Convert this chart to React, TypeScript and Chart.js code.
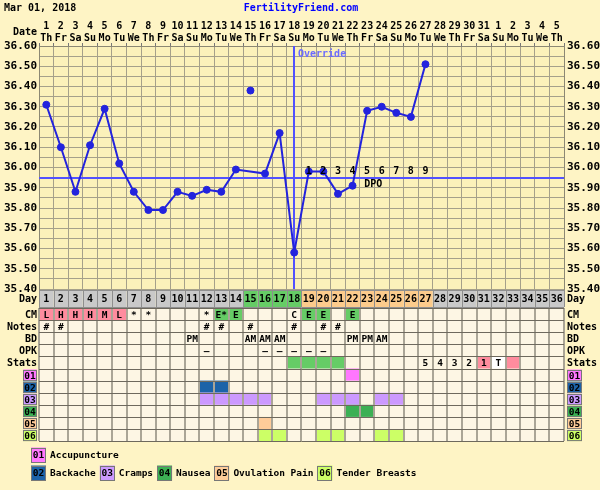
import React, { useEffect, useRef } from 'react';
import { Chart, registerables } from 'chart.js';

Chart.register(...registerables);

// ---------- data ----------
const TITLE_DATE = 'Mar 01, 2018';
const SITE = 'FertilityFriend.com';

const dateNums = [
  '1', '2', '3', '4', '5', '6', '7', '8', '9', '10', '11', '12',
  '13', '14', '15', '16', '17', '18', '19', '20', '21', '22', '23', '24',
  '25', '26', '27', '28', '29', '30', '31', '1', '2', '3', '4', '5',
];
const weekdays = [
  'Th', 'Fr', 'Sa', 'Su', 'Mo', 'Tu', 'We', 'Th', 'Fr', 'Sa', 'Su', 'Mo',
  'Tu', 'We', 'Th', 'Fr', 'Sa', 'Su', 'Mo', 'Tu', 'We', 'Th', 'Fr', 'Sa',
  'Su', 'Mo', 'Tu', 'We', 'Th', 'Fr', 'Sa', 'Su', 'Mo', 'Tu', 'We', 'Th',
];
const cycleDays = [
  '1', '2', '3', '4', '5', '6', '7', '8', '9', '10', '11', '12',
  '13', '14', '15', '16', '17', '18', '19', '20', '21', '22', '23', '24',
  '25', '26', '27', '28', '29', '30', '31', '32', '33', '34', '35', '36',
];
const temps = [
  36.31, 36.10, 35.88, 36.11, 36.29, 36.02, 35.88, 35.79, 35.79, 35.88, 35.86, 35.89,
  35.88, 35.99, null, 35.97, 36.17, 35.58, 35.98, 35.98, 35.87, 35.91, 36.28, 36.30,
  36.27, 36.25, 36.51, null, null, null, null, null, null, null, null, null,
];
const discardedTemps = [
  null, null, null, null, null, null, null, null, null, null, null, null,
  null, null, 36.38, null, null, null, null, null, null, null, null, null,
  null, null, null, null, null, null, null, null, null, null, null, null,
];
const COVERLINE = 35.95;
const OVERRIDE_DAY = 18;
const TEMP_MIN = 35.4;
const TEMP_MAX = 36.6;
const TEMP_STEP = 0.05;
const dpoLabels = [
  '', '', '', '', '', '', '', '', '', '', '', '',
  '', '', '', '', '', '', '1', '2', '3', '4', '5', '6',
  '7', '8', '9', '', '', '', '', '', '', '', '', '',
];
// '' normal, 'o' fertile/ovulation, 'p' post-ovulation
const dayPhase = [
  '', '', '', '', '', '', '', '', '', '', '', '',
  '', '', 'o', 'o', 'o', 'o', 'p', 'p', 'p', 'p', 'p', 'p',
  'p', 'p', 'p', '', '', '', '', '', '', '', '', '',
];
const cm = [
  'L', 'H', 'H', 'H', 'M', 'L', '*', '*', '', '', '', '*',
  'E*', 'E', '', '', '', 'C', 'E', 'E', '', 'E', '', '',
  '', '', '', '', '', '', '', '', '', '', '', '',
];
const notes = [
  '#', '#', '', '', '', '', '', '', '', '', '', '#',
  '#', '', '#', '', '', '#', '', '#', '#', '', '', '',
  '', '', '', '', '', '', '', '', '', '', '', '',
];
const bd = [
  '', '', '', '', '', '', '', '', '', '', 'PM', '',
  '', '', 'AM', 'AM', 'AM', '', '', '', '', 'PM', 'PM', 'AM',
  '', '', '', '', '', '', '', '', '', '', '', '',
];
const opk = [
  '', '', '', '', '', '', '', '', '', '', '', '–',
  '', '', '', '–', '–', '–', '–', '–', '', '', '', '',
  '', '', '', '', '', '', '', '', '', '', '', '',
];
const statsText = [
  '', '', '', '', '', '', '', '', '', '', '', '',
  '', '', '', '', '', '', '', '', '', '', '', '',
  '', '', '5', '4', '3', '2', '1', 'T', '', '', '', '',
];
// 'g' green, 'p' pink, 'w' white
const statsColor = [
  '', '', '', '', '', '', '', '', '', '', '', '',
  '', '', '', '', '', 'g', 'g', 'g', 'g', '', '', '',
  '', '', '', '', '', '', 'p', 'w', 'p', '', '', '',
];
const symptomCodes = ['01', '02', '03', '04', '05', '06'];
const symptomNames = ['Accupuncture', 'Backache', 'Cramps', 'Nausea', 'Ovulation Pain', 'Tender Breasts'];
const accupunctureDays = [22];
const backacheDays = [12, 13];
const crampsDays = [12, 13, 14, 15, 16, 20, 21, 22, 24, 25];
const nauseaDays = [22, 23];
const ovulationPainDays = [16];
const tenderBreastsDays = [16, 17, 20, 21, 24, 25];
const symptomDays = [accupunctureDays, backacheDays, crampsDays, nauseaDays, ovulationPainDays, tenderBreastsDays];
const rowNames = ['CM', 'Notes', 'BD', 'OPK', 'Stats'];

// ---------- styles ----------
const FAMILY = '"DejaVu Sans Mono", "Liberation Mono", monospace';
const font = (s: number) => `bold ${s}px ${FAMILY}`;
const PAGE_BG = '#fef4c5';
const PLOT_BG = '#fbf1ba';
const CELL_BG = '#fdf6e4';
const GRID = '#a5a08a';
const LINE = '#2323dd';
const COVER = '#5252ff';
const PINK = '#ff8c9e';
const GREEN = '#66cc66';
const ORANGE = '#fccb8c';
const GREY = '#c9c9c9';
const symptomColors = ['#ff77ff', '#1c63a8', '#cc99ff', '#3cb054', '#ffcc99', '#ccff66'];

const phaseColor = (p: string) => (p === 'o' ? GREEN : p === 'p' ? ORANGE : GREY);
const cmColor = (v: string) => (['L', 'M', 'H'].includes(v) ? PINK : v.startsWith('E') ? GREEN : '');
const statColor = (v: string) => (v === 'g' ? GREEN : v === 'p' ? PINK : v === 'w' ? '#ffffff' : '');

const ffPlugin = {
  id: 'ffChart',
  beforeDraw(chart: any) {
    const { ctx, chartArea: a } = chart;
    ctx.save();
    ctx.fillStyle = PAGE_BG;
    ctx.fillRect(0, 0, chart.width, chart.height);
    ctx.fillStyle = PLOT_BG;
    ctx.fillRect(a.left, a.top, a.right - a.left, a.bottom - a.top);
    ctx.restore();
  },
  beforeDatasetsDraw(chart: any) {
    const { ctx, chartArea: a, scales } = chart;
    const x = scales.x;
    const y = scales.y;
    ctx.save();
    ctx.strokeStyle = COVER;
    ctx.lineWidth = 2;
    const cy = Math.round(y.getPixelForValue(COVERLINE));
    ctx.beginPath();
    ctx.moveTo(a.left, cy);
    ctx.lineTo(a.right, cy);
    ctx.stroke();
    const ox = Math.round(x.getPixelForValue(OVERRIDE_DAY - 1));
    ctx.beginPath();
    ctx.moveTo(ox, a.top);
    ctx.lineTo(ox, a.bottom);
    ctx.stroke();
    ctx.fillStyle = '#6b6bff';
    ctx.font = font(10);
    ctx.textAlign = 'left';
    ctx.textBaseline = 'middle';
    ctx.fillText('Override', ox + 4, a.top + 8);
    ctx.restore();
  },
  afterDraw(chart: any) {
    const { ctx, chartArea: a, scales } = chart;
    const x = scales.x;
    const y = scales.y;
    const n = cycleDays.length;
    const colW = x.getPixelForValue(1) - x.getPixelForValue(0);
    const cx = (i: number) => x.getPixelForValue(i);
    const left = (i: number) => cx(i) - colW / 2;
    ctx.save();

    // title
    ctx.textBaseline = 'middle';
    ctx.fillStyle = '#000';
    ctx.font = font(10);
    ctx.textAlign = 'left';
    ctx.fillText(TITLE_DATE, 4, 8);
    ctx.fillStyle = '#0000ff';
    ctx.textAlign = 'center';
    ctx.fillText(SITE, 301, 8);
    ctx.fillStyle = '#000';
    ctx.textAlign = 'right';
    ctx.fillText('Date', a.left - 2, 32);

    // DPO labels
    const cy = y.getPixelForValue(COVERLINE);
    ctx.textAlign = 'center';
    dpoLabels.forEach((t, i) => {
      if (t) ctx.fillText(t, cx(i), cy - 6);
    });
    ctx.textAlign = 'left';
    ctx.fillText('DPO', cx(22) - 3, cy + 7);

    // table geometry
    const dayTop = a.bottom + 1;
    const dayH = 17;
    const rowsTop = dayTop + dayH + 1;
    const rowH = 12.1;
    const nRows = rowNames.length + symptomCodes.length;
    const rowY = (r: number) => rowsTop + r * rowH;

    // Day row
    for (let i = 0; i < n; i++) {
      ctx.fillStyle = phaseColor(dayPhase[i]);
      ctx.fillRect(left(i), dayTop, colW, dayH);
    }
    ctx.strokeStyle = '#8e8e8e';
    ctx.lineWidth = 1;
    for (let i = 0; i <= n; i++) {
      const xx = Math.round(left(i)) + 0.5;
      ctx.beginPath();
      ctx.moveTo(xx, dayTop);
      ctx.lineTo(xx, dayTop + dayH);
      ctx.stroke();
    }
    ctx.beginPath();
    ctx.moveTo(a.left, Math.round(dayTop) + 0.5);
    ctx.lineTo(a.right, Math.round(dayTop) + 0.5);
    ctx.moveTo(a.left, Math.round(dayTop + dayH) + 0.5);
    ctx.lineTo(a.right, Math.round(dayTop + dayH) + 0.5);
    ctx.stroke();

    // lower rows background & colored cells
    ctx.fillStyle = CELL_BG;
    ctx.fillRect(a.left, rowsTop, a.right - a.left, nRows * rowH);
    const fillCell = (r: number, i: number, c: string) => {
      ctx.fillStyle = c;
      ctx.fillRect(left(i), rowY(r), colW, rowH);
    };
    cm.forEach((v, i) => {
      const c = cmColor(v);
      if (c) fillCell(0, i, c);
    });
    statsColor.forEach((v, i) => {
      const c = statColor(v);
      if (c) fillCell(4, i, c);
    });
    symptomDays.forEach((days, k) => {
      days.forEach((d) => fillCell(5 + k, d - 1, symptomColors[k]));
    });

    // table grid
    ctx.strokeStyle = '#aaa596';
    ctx.lineWidth = 2;
    for (let i = 0; i <= n; i++) {
      const xx = Math.round(left(i));
      ctx.beginPath();
      ctx.moveTo(xx, rowsTop);
      ctx.lineTo(xx, rowsTop + nRows * rowH);
      ctx.stroke();
    }
    ctx.strokeStyle = '#6e695d';
    ctx.lineWidth = 1;
    for (let r = 0; r <= nRows; r++) {
      const yy = Math.round(rowY(r)) + 0.5;
      ctx.beginPath();
      ctx.moveTo(a.left, yy);
      ctx.lineTo(a.right, yy);
      ctx.stroke();
    }

    // cell texts
    ctx.fillStyle = '#000';
    ctx.font = font(10);
    ctx.textAlign = 'center';
    ctx.textBaseline = 'middle';
    cycleDays.forEach((t, i) => ctx.fillText(t, cx(i), dayTop + dayH / 2 + 1));
    ctx.font = font(9.5);
    const rowsText = [cm, notes, bd, opk, statsText];
    rowsText.forEach((arr, r) => {
      arr.forEach((t, i) => {
        if (t) ctx.fillText(t, cx(i), rowY(r) + rowH / 2 + 1);
      });
    });

    // row labels both sides
    const drawBadge = (bx: number, by: number, w: number, h: number, k: number, fs: number) => {
      ctx.fillStyle = symptomColors[k];
      ctx.fillRect(bx, by, w, h);
      ctx.strokeStyle = '#777';
      ctx.lineWidth = 1;
      ctx.strokeRect(Math.round(bx) + 0.5, Math.round(by) + 0.5, w - 1, h - 1);
      ctx.fillStyle = '#000';
      ctx.font = font(fs);
      ctx.textAlign = 'center';
      ctx.textBaseline = 'middle';
      ctx.fillText(symptomCodes[k], bx + w / 2, by + h / 2 + 1);
    };
    ctx.font = font(10);
    ctx.textBaseline = 'middle';
    ctx.fillStyle = '#000';
    ctx.textAlign = 'right';
    ctx.fillText('Day', a.left - 2, dayTop + dayH / 2 + 1);
    ctx.textAlign = 'left';
    ctx.fillText('Day', a.right + 3, dayTop + dayH / 2 + 1);
    rowNames.forEach((t, r) => {
      ctx.font = font(10);
      ctx.fillStyle = '#000';
      ctx.textAlign = 'right';
      ctx.fillText(t, a.left - 2, rowY(r) + rowH / 2 + 1);
      ctx.textAlign = 'left';
      ctx.fillText(t, a.right + 3, rowY(r) + rowH / 2 + 1);
    });
    symptomCodes.forEach((_, k) => {
      const by = rowY(5 + k) + 1;
      drawBadge(a.left - 16, by, 14, rowH - 1, k, 9.5);
      drawBadge(a.right + 3, by, 15, rowH - 1, k, 9.5);
    });

    // legend
    const legendY = [455, 473];
    const legendRows = [[0], [1, 2, 3, 4, 5]];
    legendRows.forEach((ks, li) => {
      let lx = 31;
      ks.forEach((k) => {
        drawBadge(lx, legendY[li] - 7.5, 15, 15, k, 9.5);
        ctx.font = font(9.5);
        ctx.fillStyle = '#000';
        ctx.textAlign = 'left';
        ctx.textBaseline = 'middle';
        ctx.fillText(symptomNames[k], lx + 19, legendY[li] + 1);
        lx += 19 + ctx.measureText(symptomNames[k]).width + 4;
      });
    });

    ctx.restore();
  },
};

const tickLabel = (v: any) => {
  const h = Math.round(Number(v) * 100);
  return h % 10 === 0 ? (h / 100).toFixed(2) : '';
};

export default function App() {
  const ref = useRef<HTMLCanvasElement>(null);
  useEffect(() => {
    const chart = new Chart(ref.current as HTMLCanvasElement, {
      type: 'line',
      data: {
        labels: dateNums.map((d, i) => [d, weekdays[i]]),
        datasets: [
          {
            label: 'Temperature',
            data: temps,
            borderColor: LINE,
            backgroundColor: LINE,
            borderWidth: 2,
            pointRadius: 3.5,
            pointHoverRadius: 3.5,
            pointBackgroundColor: LINE,
            pointBorderColor: LINE,
            pointBorderWidth: 1,
            spanGaps: true,
            tension: 0,
            segment: {
              borderDash: (c: any) => (c.p1DataIndex - c.p0DataIndex > 1 ? [3, 3] : undefined),
              borderWidth: (c: any) => (c.p1DataIndex - c.p0DataIndex > 1 ? 1 : undefined),
            },
          } as any,
          {
            label: 'Discarded',
            data: discardedTemps,
            showLine: false,
            pointRadius: 3.5,
            pointHoverRadius: 3.5,
            pointBackgroundColor: LINE,
            pointBorderColor: LINE,
          } as any,
        ],
      },
      options: {
        responsive: false,
        animation: false,
        events: [],
        layout: { padding: { top: 0, left: 0, right: 0, bottom: 201 } },
        plugins: { legend: { display: false }, tooltip: { enabled: false } },
        scales: {
          x: {
            type: 'category',
            position: 'top',
            offset: true,
            grid: { offset: true, color: GRID, tickLength: 3, drawTicks: true, tickColor: '#777' },
            border: { color: '#8c8874' },
            ticks: {
              autoSkip: false,
              maxRotation: 0,
              minRotation: 0,
              padding: -1,
              color: '#000',
              font: { family: FAMILY, size: 10, weight: 'bold', lineHeight: 1.2 },
            },
            afterFit: (s: any) => {
              s.height = 46;
            },
          },
          y: {
            type: 'linear',
            position: 'left',
            min: TEMP_MIN,
            max: TEMP_MAX,
            grid: { color: GRID, drawTicks: false },
            border: { color: '#8c8874' },
            ticks: {
              stepSize: TEMP_STEP,
              autoSkip: false,
              padding: 2,
              color: '#000',
              font: { family: FAMILY, size: 11, weight: 'bold' },
              callback: tickLabel,
            },
            afterFit: (s: any) => {
              s.width = 39;
            },
          },
          y2: {
            type: 'linear',
            position: 'right',
            min: TEMP_MIN,
            max: TEMP_MAX,
            grid: { display: false, drawTicks: false },
            border: { color: '#8c8874' },
            ticks: {
              stepSize: TEMP_STEP,
              autoSkip: false,
              padding: 3,
              color: '#000',
              font: { family: FAMILY, size: 11, weight: 'bold' },
              callback: tickLabel,
            },
            afterFit: (s: any) => {
              s.width = 36;
            },
          },
        },
      } as any,
      plugins: [ffPlugin],
    });
    return () => chart.destroy();
  }, []);
  return (
    <div style={{ position: 'absolute', left: 0, top: 0, width: 600, height: 490 }}>
      <canvas ref={ref} width={600} height={490} style={{ display: 'block' }} />
    </div>
  );
}
